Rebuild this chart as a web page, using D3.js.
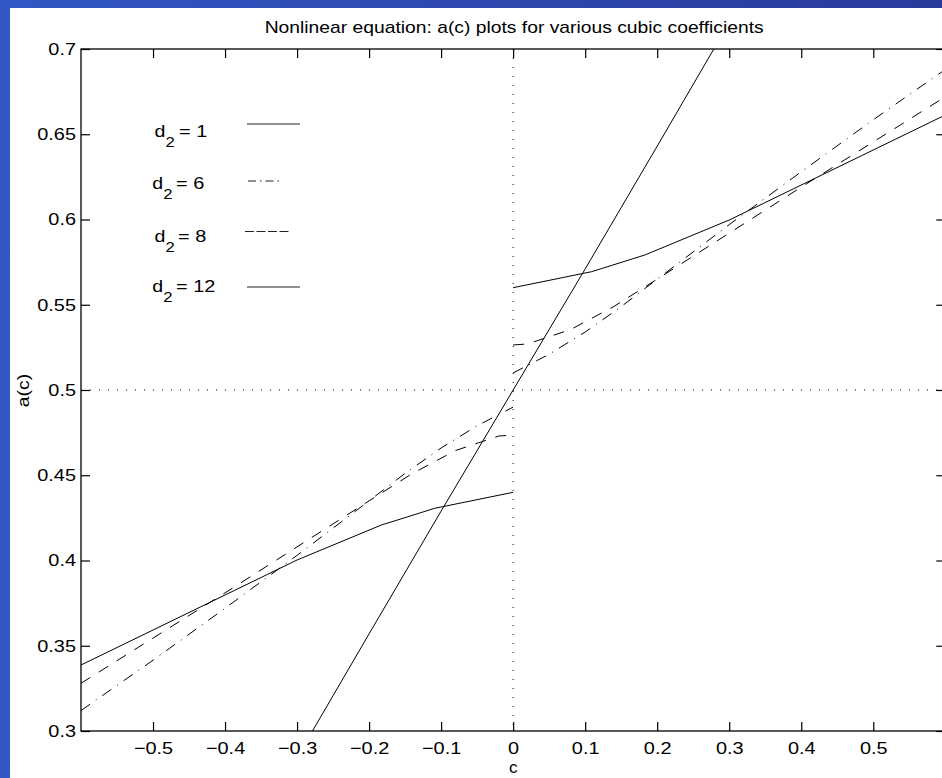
<!DOCTYPE html>
<html><head><meta charset="utf-8">
<script src="https://cdn.jsdelivr.net/npm/d3@7"></script>
<style>body{margin:0;padding:0;overflow:hidden;} text{font-family:"Liberation Sans",Arial,Helvetica,sans-serif;fill:#000;}</style>
</head><body>
<script>
// ---- data ----
const titleText = "Nonlinear equation: a(c) plots for various cubic coefficients";
const xTicks = [-0.5, -0.4, -0.3, -0.2, -0.1, 0, 0.1, 0.2, 0.3, 0.4, 0.5];
const yTicks = [0.3, 0.35, 0.4, 0.45, 0.5, 0.55, 0.6, 0.65, 0.7];
const yTickLabels = ["0.3","0.35","0.4","0.45","0.5","0.55","0.6","0.65","0.7"];

// d2 = 1 (solid, steep, continuous)
const d1C = [-0.28, -0.2, -0.1, 0, 0.1, 0.2, 0.28];
const d1A = [0.299, 0.357, 0.429, 0.5, 0.571, 0.643, 0.701];

// d2 = 6 (dash-dot), two branches
const d6LeftC  = [-0.6, -0.5, -0.4, -0.3, -0.2, -0.15, -0.1, -0.05, 0];
const d6LeftA  = [0.312, 0.3415, 0.372, 0.403, 0.435, 0.4511, 0.466, 0.479, 0.490];
const d6RightC = [0, 0.05, 0.1, 0.15, 0.2, 0.3, 0.4, 0.5, 0.6];
const d6RightA = [0.510, 0.521, 0.534, 0.5489, 0.565, 0.597, 0.628, 0.6585, 0.688];

// d2 = 8 (dashed), two branches
const d8LeftC  = [-0.6, -0.4, -0.2, -0.14, -0.08, -0.02, 0];
const d8LeftA  = [0.328, 0.381, 0.435, 0.451, 0.4645, 0.473, 0.4736];
const d8RightC = [0, 0.02, 0.08, 0.14, 0.2, 0.4, 0.6];
const d8RightA = [0.5264, 0.527, 0.5355, 0.549, 0.565, 0.619, 0.672];

// d2 = 12 (solid), two branches
const d12LeftC  = [-0.6, -0.3, -0.183, -0.109, 0];
const d12LeftA  = [0.3387, 0.4003, 0.4208, 0.4306, 0.44];
const d12RightC = [0, 0.109, 0.183, 0.3, 0.6];
const d12RightA = [0.56, 0.5694, 0.5792, 0.5997, 0.6613];

const legendLabels = ["1", "6", "8", "12"];
const legendStyles = ["solid", "dashdot", "dashed", "solid"];

// ---- drawing ----
const W = 942, H = 778;
const svg = d3.select("body").append("svg").attr("width", W).attr("height", H);
const defs = svg.append("defs");
const grad = defs.append("linearGradient").attr("id","bg").attr("x1","0").attr("x2","1").attr("y1","0").attr("y2","0");
grad.append("stop").attr("offset","0").attr("stop-color","#3157c4");
grad.append("stop").attr("offset","1").attr("stop-color","#293a9c");
svg.append("rect").attr("width",W).attr("height",H).attr("fill","url(#bg)");
svg.append("rect").attr("x",10).attr("y",8).attr("width",W-10).attr("height",H-8).attr("fill","#fff");

const L = 81, R = 945.3, T = 49, B = 731;
const x = d3.scaleLinear().domain([-0.6, 0.6]).range([L, R]);
const y = d3.scaleLinear().domain([0.3, 0.7]).range([B, T]);

defs.append("clipPath").attr("id","clip").append("rect").attr("x",L).attr("y",T).attr("width",R-L).attr("height",B-T);

const dash = {solid: null, dashed: "11,10", dashdot: "11,7,1,7"};

// dotted reference lines
svg.append("line").attr("x1", x(0)).attr("x2", x(0)).attr("y1", T).attr("y2", B)
  .attr("stroke","#000").attr("stroke-width",1).attr("stroke-dasharray","1,8");
svg.append("line").attr("x1", L).attr("x2", R).attr("y1", y(0.5)).attr("y2", y(0.5))
  .attr("stroke","#000").attr("stroke-width",1).attr("stroke-dasharray","1,8");

const line = d3.line().x(d => x(d[0])).y(d => y(d[1]));
const g = svg.append("g").attr("clip-path","url(#clip)");
function series(cs, as, style){
  g.append("path").datum(cs.map((c,i)=>[c, as[i]])).attr("d", line)
    .attr("fill","none").attr("stroke","#000").attr("stroke-width",1)
    .attr("stroke-dasharray", dash[style]);
}
series(d1C, d1A, "solid");
series(d6LeftC, d6LeftA, "dashdot");
series(d6RightC, d6RightA, "dashdot");
series(d8LeftC, d8LeftA, "dashed");
series(d8RightC, d8RightA, "dashed");
series(d12LeftC, d12LeftA, "solid");
series(d12RightC, d12RightA, "solid");

// axes box
svg.append("rect").attr("x",L).attr("y",T).attr("width",R-L).attr("height",B-T)
  .attr("fill","none").attr("stroke","#000").attr("stroke-width",1.3);

const tk = 9;
const axB = svg.append("g").attr("transform",`translate(0,${B})`)
  .call(d3.axisBottom(x).tickValues(xTicks).tickSizeInner(-tk).tickSizeOuter(0).tickPadding(11)
    .tickFormat(d => d === 0 ? "0" : (d < 0 ? "\u2212" + Math.abs(d) : String(d))));
const axT = svg.append("g").attr("transform",`translate(0,${T})`)
  .call(d3.axisTop(x).tickValues(xTicks).tickSizeInner(-tk).tickSizeOuter(0).tickFormat(""));
const axL = svg.append("g").attr("transform",`translate(${L},0)`)
  .call(d3.axisLeft(y).tickValues(yTicks).tickSizeInner(-tk).tickSizeOuter(0).tickPadding(5)
    .tickFormat((d,i) => yTickLabels[i]));
const axR = svg.append("g").attr("transform",`translate(${R},0)`)
  .call(d3.axisRight(y).tickValues(yTicks).tickSizeInner(-tk).tickSizeOuter(0).tickFormat(""));
[axB, axT, axL, axR].forEach(a => {
  a.select(".domain").remove();
  a.selectAll("line").attr("stroke","#000").attr("stroke-width",1.2);
  a.selectAll("text").attr("font-size",17).attr("font-family",'"Liberation Sans",Arial,sans-serif').attr("fill","#000");
});

function stretch(sel, f){
  sel.each(function(){
    const len = this.getComputedTextLength();
    d3.select(this).attr("textLength", len*f).attr("lengthAdjust","spacingAndGlyphs");
  });
}
stretch(axB.selectAll("text"), 1.17);
stretch(axL.selectAll("text"), 1.17);

// title & axis labels
svg.append("text").attr("x", (L+R)/2 + 1).attr("y", 33).attr("text-anchor","middle").attr("font-size",17)
  .attr("textLength", 499).attr("lengthAdjust","spacingAndGlyphs").text(titleText);
svg.append("text").attr("x", x(0)).attr("y", 773).attr("text-anchor","middle").attr("font-size",17).text("c");
const ylab = svg.append("text").attr("transform",`translate(28.5,${y(0.5)+0.5}) rotate(-90)`).attr("text-anchor","middle").attr("font-size",17).text("a(c)");
stretch(ylab, 1.14);

// legend
const legRowsY = [136.5, 188.5, 241.5, 291.5];
const legDX = [154.5, 152.2, 154.5, 152.2];
const legEqX = [179, 176, 178, 176];
const legLineX = [[247,300],[248,281],[245,289],[247,300]];
const legLineY = [124, 181, 231.5, 287];
legendLabels.forEach((lab, i) => {
  const lg = svg.append("g");
  const t1 = lg.append("text").attr("x", legDX[i]).attr("y", legRowsY[i]).attr("font-size",17).text("d");
  const t2 = lg.append("text").attr("x", legDX[i] + 11).attr("y", legRowsY[i] + 10).attr("font-size",14.5).text("2");
  const t3 = lg.append("text").attr("x", legEqX[i]).attr("y", legRowsY[i]).attr("font-size",17).text("= " + lab);
  stretch(t1, 1.15); stretch(t2, 1.15); stretch(t3, 1.17);
  svg.append("line").attr("x1", legLineX[i][0]).attr("x2", legLineX[i][1])
    .attr("y1", legLineY[i]).attr("y2", legLineY[i])
    .attr("stroke","#222").attr("stroke-width",1)
    .attr("stroke-dasharray", legendStyles[i] === "dashdot" ? "8,4,1.5,4" : (legendStyles[i] === "dashed" ? "9,2.5" : null));
});
</script>
</body></html>
